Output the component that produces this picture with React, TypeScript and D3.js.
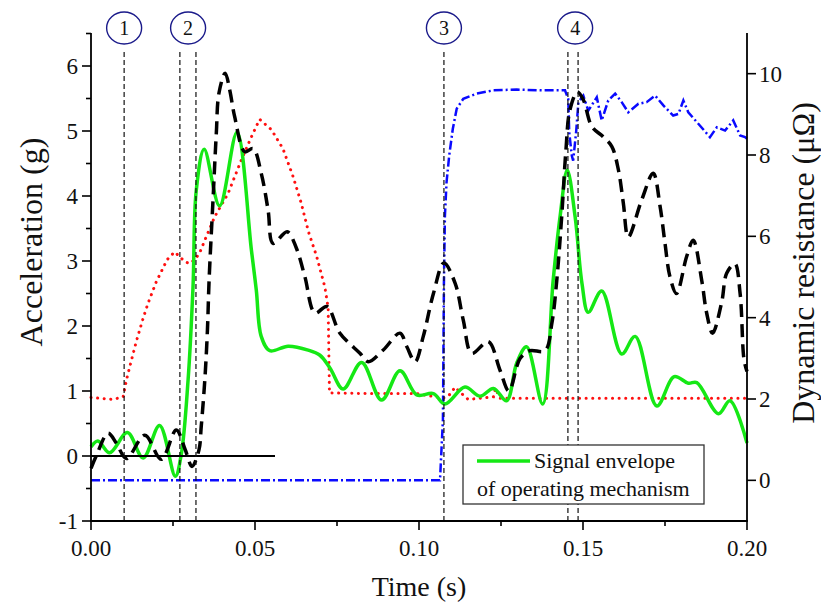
import React from "react";
import * as d3 from "d3";

// ---------- data ----------
const greenT = [0, 0.0021, 0.0057, 0.0111, 0.0159, 0.0209, 0.0257, 0.0275, 0.0296, 0.0311, 0.0321, 0.0345, 0.0392, 0.0445, 0.0489, 0.0504, 0.0519, 0.0545, 0.0601, 0.0662, 0.0698, 0.0729, 0.0769, 0.0825, 0.0886, 0.0942, 0.0993, 0.1044, 0.1079, 0.114, 0.1186, 0.1227, 0.1267, 0.1298, 0.1328, 0.1377, 0.1409, 0.143, 0.1452, 0.1476, 0.1497, 0.1516, 0.1557, 0.1618, 0.1659, 0.1725, 0.1778, 0.1821, 0.1847, 0.1913, 0.1948, 0.2];
const greenG = [0.14, 0.23, 0.05, 0.36, -0.03, 0.47, -0.31, 0.02, 1.17, 2.6, 4.09, 4.72, 3.85, 4.98, 3.17, 2.55, 1.84, 1.62, 1.69, 1.63, 1.55, 1.35, 1.03, 1.44, 0.86, 1.31, 0.94, 0.96, 0.8, 1.06, 0.92, 1.04, 0.85, 1.43, 1.68, 0.8, 2.7, 3.68, 4.4, 3.68, 2.65, 2.21, 2.54, 1.57, 1.84, 0.77, 1.22, 1.12, 1.13, 0.65, 0.85, 0.2];

const blackT = [0, 0.0016, 0.0052, 0.0077, 0.0108, 0.0164, 0.0214, 0.026, 0.0287, 0.0308, 0.0329, 0.0336, 0.0347, 0.0355, 0.036, 0.0372, 0.0382, 0.039, 0.0409, 0.0423, 0.0438, 0.0469, 0.0494, 0.0519, 0.054, 0.0555, 0.0598, 0.0626, 0.0652, 0.0683, 0.0719, 0.0759, 0.082, 0.0845, 0.0891, 0.0942, 0.0963, 0.0988, 0.1013, 0.1044, 0.1076, 0.111, 0.1135, 0.1161, 0.1211, 0.1247, 0.1274, 0.1308, 0.1338, 0.1384, 0.1405, 0.142, 0.1435, 0.1448, 0.146, 0.1483, 0.1501, 0.1527, 0.1562, 0.1588, 0.1608, 0.1623, 0.1638, 0.1679, 0.1714, 0.1735, 0.175, 0.1765, 0.1785, 0.1816, 0.1836, 0.1862, 0.1877, 0.1895, 0.1923, 0.1938, 0.1963, 0.1979, 0.1991, 0.2];
const blackG = [-0.19, 0.0, 0.35, 0.2, -0.04, 0.32, -0.05, 0.4, 0.1, -0.16, 0.09, 0.45, 1.17, 1.94, 2.7, 3.94, 4.96, 5.58, 5.89, 5.63, 5.22, 4.68, 4.73, 4.35, 3.78, 3.27, 3.45, 3.2, 2.76, 2.2, 2.3, 1.89, 1.58, 1.45, 1.63, 1.89, 1.68, 1.45, 1.84, 2.5, 2.97, 2.66, 2.09, 1.58, 1.76, 1.32, 1.0, 1.5, 1.62, 1.62, 2.04, 2.7, 3.68, 4.71, 5.32, 5.6, 5.48, 5.07, 4.91, 4.76, 4.4, 3.89, 3.37, 3.94, 4.35, 3.84, 3.27, 2.76, 2.5, 3.07, 3.32, 2.7, 2.2, 1.89, 2.37, 2.81, 2.96, 2.5, 1.48, 1.3];

const redT = [0, 0.0067, 0.0098, 0.0108, 0.0118, 0.0138, 0.0159, 0.0174, 0.0199, 0.0232, 0.0255, 0.0286, 0.0301, 0.0316, 0.0331, 0.0347, 0.0377, 0.0418, 0.0458, 0.0489, 0.0514, 0.055, 0.0585, 0.0616, 0.0641, 0.0663, 0.0688, 0.0713, 0.0723, 0.0727, 0.0841, 0.0993, 0.1074, 0.1095, 0.111, 0.1128, 0.115, 0.1227, 0.1233, 0.1247, 0.2];
const redG = [0.9, 0.87, 0.91, 1.17, 1.37, 1.76, 2.12, 2.35, 2.68, 3.02, 3.14, 2.99, 2.96, 3.02, 3.12, 3.32, 3.68, 4.04, 4.55, 4.91, 5.18, 5.02, 4.73, 4.3, 3.89, 3.45, 3.07, 2.6, 2.28, 0.97, 0.96, 0.96, 0.89, 0.95, 1.06, 0.97, 0.87, 0.91, 1.04, 0.89, 0.89];

const blueT = [0, 0.1064, 0.1073, 0.1076, 0.1079, 0.1084, 0.1092, 0.1103, 0.1115, 0.1135, 0.1176, 0.1227, 0.1298, 0.1369, 0.1445, 0.1455, 0.1458, 0.1466, 0.147, 0.1479, 0.1486, 0.1501, 0.1516, 0.1542, 0.1557, 0.1577, 0.1598, 0.1618, 0.1638, 0.1669, 0.1694, 0.172, 0.1745, 0.1775, 0.1791, 0.1806, 0.1821, 0.1847, 0.1887, 0.1908, 0.1933, 0.1958, 0.1979, 0.1994, 0.2];
const blueR = [0, 0, 1.5, 4.86, 6.5, 7.33, 7.98, 8.64, 9.14, 9.38, 9.51, 9.59, 9.61, 9.59, 9.59, 9.38, 8.56, 7.98, 7.86, 8.56, 9.3, 9.46, 9.09, 9.42, 8.85, 9.34, 9.51, 9.3, 9.05, 9.26, 9.3, 9.46, 9.22, 8.97, 9.01, 9.34, 9.05, 8.81, 8.44, 8.68, 8.6, 8.85, 8.48, 8.44, 8.4];

const markerTimes = [0.0101, 0.0271, 0.032, 0.1076, 0.1454, 0.1485];
const circleTimes = [0.0101, 0.0296, 0.1076, 0.1476];
const circleLabels = ["1", "2", "3", "4"];

const leftMajor = [-1, 0, 1, 2, 3, 4, 5, 6];
const leftMinor = [-0.5, 0.5, 1.5, 2.5, 3.5, 4.5, 5.5, 6.5];
const rightMajor = [0, 2, 4, 6, 8, 10];
const bottomMajor = [0, 0.05, 0.1, 0.15, 0.2];
const bottomLabels = ["0.00", "0.05", "0.10", "0.15", "0.20"];
const bottomMinor = [0.025, 0.075, 0.125, 0.175];
const zeroLineEnd = 0.0561;

const FONT = "'Liberation Serif', 'Times New Roman', serif";

export default function App() {
  const x = d3.scaleLinear().domain([0, 0.2]).range([91, 747]);
  const yL = d3.scaleLinear().domain([-1, 6.5]).range([521, 33.5]);
  const yR = d3.scaleLinear().domain([-1, 11]).range([521, 33]);

  const smooth = d3
    .line<[number, number]>()
    .x((d) => x(d[0]))
    .y((d) => yL(d[1]))
    .curve(d3.curveCatmullRom.alpha(0.5));
  const linL = d3
    .line<[number, number]>()
    .x((d) => x(d[0]))
    .y((d) => yL(d[1]));
  const linR = d3
    .line<[number, number]>()
    .x((d) => x(d[0]))
    .y((d) => yR(d[1]));

  const zip = (a: number[], b: number[]) => a.map((t, i) => [t, b[i]] as [number, number]);

  const x0 = x(0);
  const x1 = x(0.2);
  const yb = yL(-1);

  return (
    <svg
      width={821}
      height={610}
      style={{ position: "absolute", left: 0, top: 0, background: "#fff" }}
      fontFamily={FONT}
    >
      <rect x={0} y={0} width={821} height={610} fill="#fff" />

      {/* series */}
      <path d={linL(zip(redT, redG)) || ""} fill="none" stroke="#ff1010" strokeWidth={3} strokeDasharray="0.1 6.5" strokeLinecap="round" />
      <path d={linR(zip(blueT, blueR)) || ""} fill="none" stroke="#0a0aff" strokeWidth={2.5} strokeDasharray="9 3 2 3" />
      <path d={smooth(zip(greenT, greenG)) || ""} fill="none" stroke="#15e815" strokeWidth={3.5} />
      <path d={smooth(zip(blackT, blackG)) || ""} fill="none" stroke="#000" strokeWidth={3.5} strokeDasharray="13 7" />

      {/* zero line */}
      <line x1={x0} x2={x(zeroLineEnd)} y1={yL(0)} y2={yL(0)} stroke="#000" strokeWidth={1.2} shapeRendering="crispEdges" />

      {/* marker lines */}
      {markerTimes.map((t, i) => (
        <line key={i} x1={x(t)} x2={x(t)} y1={52} y2={yb} stroke="#111" strokeWidth={1.2} strokeDasharray="5 3" />
      ))}
      {circleTimes.map((t, i) => (
        <g key={i}>
          <ellipse cx={x(t)} cy={28} rx={17.5} ry={16} fill="#fff" stroke="#1a1a8a" strokeWidth={1.4} />
          <text x={x(t)} y={35} textAnchor="middle" fontSize={20} fill="#111">
            {circleLabels[i]}
          </text>
        </g>
      ))}

      {/* axes */}
      <line x1={x0} x2={x0} y1={33} y2={yb} stroke="#000" strokeWidth={1.8} />
      <line x1={x1} x2={x1} y1={33} y2={yb} stroke="#000" strokeWidth={1.8} />
      <line x1={x0 - 0.9} x2={x1 + 0.9} y1={yb} y2={yb} stroke="#000" strokeWidth={1.8} />

      {leftMajor.map((v) => (
        <g key={"lm" + v}>
          <line x1={x0 - 9} x2={x0} y1={yL(v)} y2={yL(v)} stroke="#000" strokeWidth={1.6} />
          <text x={x0 - 13} y={yL(v) + 8} textAnchor="end" fontSize={23} fill="#111">
            {String(v)}
          </text>
        </g>
      ))}
      {leftMinor.map((v) => (
        <line key={"ln" + v} x1={x0 - 5} x2={x0} y1={yL(v)} y2={yL(v)} stroke="#000" strokeWidth={1.6} />
      ))}
      {rightMajor.map((v) => (
        <g key={"rm" + v}>
          <line x1={x1} x2={x1 + 9} y1={yR(v)} y2={yR(v)} stroke="#000" strokeWidth={1.6} />
          <text x={x1 + 12} y={yR(v) + 8} textAnchor="start" fontSize={23} fill="#111">
            {String(v)}
          </text>
        </g>
      ))}
      {bottomMajor.map((v, i) => (
        <g key={"bm" + v}>
          <line x1={x(v)} x2={x(v)} y1={yb} y2={yb + 9} stroke="#000" strokeWidth={1.6} />
          <text x={x(v)} y={556} textAnchor="middle" fontSize={23} fill="#111">
            {bottomLabels[i]}
          </text>
        </g>
      ))}
      {bottomMinor.map((v) => (
        <line key={"bn" + v} x1={x(v)} x2={x(v)} y1={yb} y2={yb + 5} stroke="#000" strokeWidth={1.6} />
      ))}

      {/* titles */}
      <text x={419} y={596} textAnchor="middle" fontSize={28} fill="#111">
        Time (s)
      </text>
      <text transform="translate(42,242) rotate(-90)" textAnchor="middle" fontSize={32} fill="#111">
        Acceleration (g)
      </text>
      <text transform="translate(814,263) rotate(-90)" textAnchor="middle" fontSize={32} fill="#111">
        Dynamic resistance (μΩ)
      </text>

      {/* legend */}
      <rect x={463} y={445} width={241} height={59} fill="#fff" stroke="#333" strokeWidth={1.3} />
      <line x1={477} x2={530} y1={461} y2={461} stroke="#15e815" strokeWidth={3.5} />
      <text x={534} y={468} fontSize={22} fill="#111">
        Signal envelope
      </text>
      <text x={477} y={496} fontSize={22} fill="#111">
        of operating mechanism
      </text>
    </svg>
  );
}
